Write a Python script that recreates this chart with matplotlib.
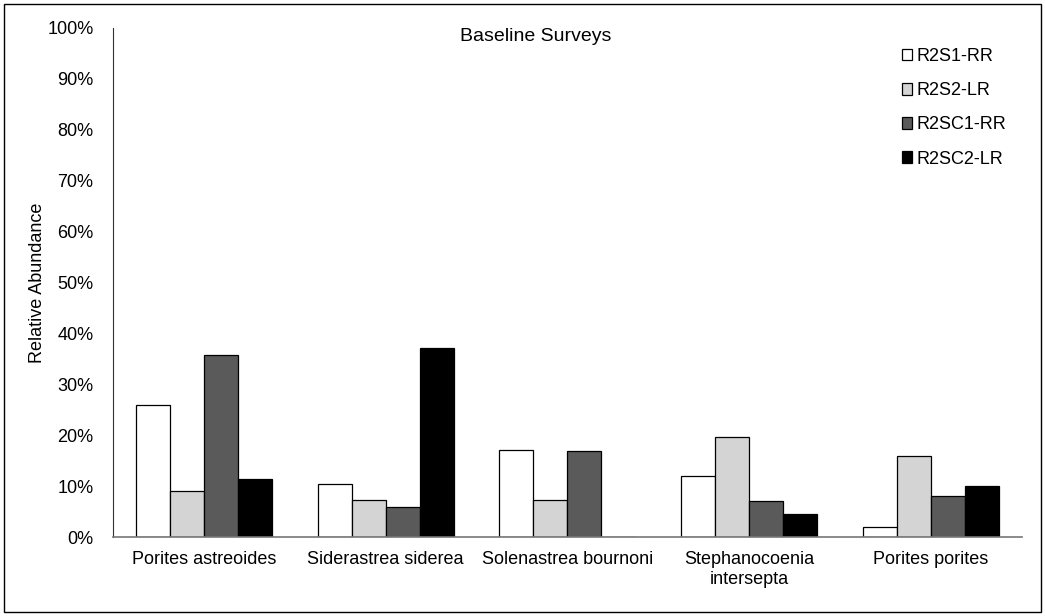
import numpy as np
import matplotlib.pyplot as plt
from matplotlib.patches import Rectangle

plt.rcParams['font.family'] = ['Liberation Sans', 'DejaVu Sans']

species = ['Porites astreoides', 'Siderastrea siderea', 'Solenastrea bournoni',
           'Stephanocoenia\nintersepta', 'Porites porites']
r2s1_rr = [25.9, 10.4, 17.2, 12.1, 1.9]
r2s2_lr = [9.0, 7.3, 7.3, 19.6, 16.0]
r2sc1_rr = [35.8, 6.0, 16.9, 7.0, 8.0]
r2sc2_lr = [11.5, 37.1, 0.0, 4.5, 10.0]
series_names = ['R2S1-RR', 'R2S2-LR', 'R2SC1-RR', 'R2SC2-LR']
colors = ['#ffffff', '#d4d4d4', '#5a5a5a', '#000000']

fig = plt.figure(figsize=(10.45, 6.16), dpi=100)
ax = fig.add_axes([0.108, 0.128, 0.870, 0.827])

x = np.arange(len(species))
w = 0.187
data = [r2s1_rr, r2s2_lr, r2sc1_rr, r2sc2_lr]
for i, (vals, c, name) in enumerate(zip(data, colors, series_names)):
    ax.bar(x + (i - 1.5) * w, vals, w, color=c, edgecolor='black', linewidth=0.9, label=name)

ax.set_xlim(-0.5, 4.5)
ax.set_ylim(0, 100)
ax.set_yticks(range(0, 101, 10))
ax.set_yticklabels([f'{v}%' for v in range(0, 101, 10)])
ax.set_xticks(x)
ax.set_xticklabels(species)
ax.tick_params(axis='both', length=0, labelsize=13, pad=10)
ax.tick_params(axis='y', pad=14)
ax.set_ylabel('Relative Abundance', fontsize=13, labelpad=1)

for s in ['top', 'right']:
    ax.spines[s].set_visible(False)
ax.spines['left'].set_color('#333333')
ax.spines['bottom'].set_color('#777777')
ax.spines['bottom'].set_linewidth(1.2)

ax.text(0.465, 0.999, 'Baseline Surveys', transform=ax.transAxes, ha='center', va='top', fontsize=14)

ax.legend(loc='upper right', bbox_to_anchor=(1.0, 0.992), frameon=False, fontsize=13,
          handlelength=0.6, handleheight=0.6, handletextpad=0.2, labelspacing=0.95)

fig.patches.append(Rectangle((0.004, 0.006), 0.992, 0.988, transform=fig.transFigure,
                             fill=False, edgecolor='black', linewidth=1))

plt.savefig('out.png', dpi=100)
